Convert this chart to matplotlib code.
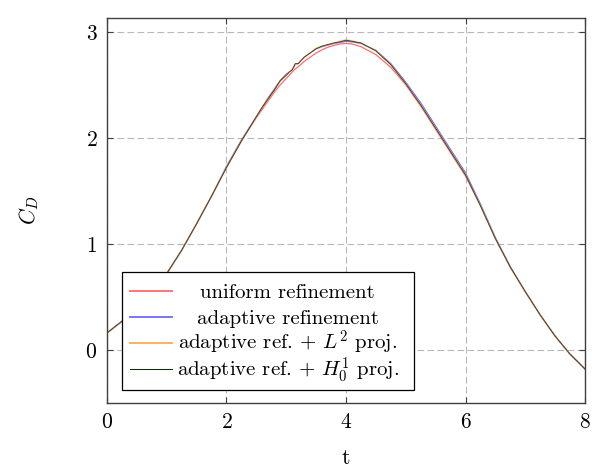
import matplotlib
matplotlib.use("Agg")
import matplotlib.pyplot as plt
from matplotlib.offsetbox import DrawingArea

plt.rcParams["font.family"] = "serif"
plt.rcParams["font.serif"] = ["cmr10"]
plt.rcParams["mathtext.fontset"] = "cm"
plt.rcParams["axes.formatter.use_mathtext"] = True

# time samples
t = [0.0, 0.25, 0.5, 0.75, 1.0, 1.25, 1.5, 1.75, 2.0, 2.25, 2.5, 2.6, 2.7, 2.8,
     2.9, 3.0, 3.05, 3.1, 3.15, 3.2, 3.3, 3.4, 3.5, 3.6, 3.7, 3.8, 3.9, 4.0,
     4.1, 4.25, 4.5, 4.75, 5.0, 5.25, 5.5, 5.75, 6.0, 6.25, 6.5, 6.75, 7.0,
     7.25, 7.5, 7.75, 8.0]

# drag coefficient, uniform refinement
cd_uniform = [0.16, 0.27, 0.40, 0.55, 0.72, 0.94, 1.19, 1.45, 1.72, 1.97, 2.19,
              2.27, 2.35, 2.43, 2.50, 2.56, 2.59, 2.62, 2.65, 2.67, 2.72, 2.76,
              2.80, 2.83, 2.855, 2.872, 2.885, 2.89, 2.885, 2.86, 2.785, 2.665,
              2.50, 2.30, 2.08, 1.86, 1.64, 1.36, 1.05, 0.78, 0.55, 0.33, 0.13,
              -0.04, -0.18]

# drag coefficient, adaptive refinement
cd_adaptive = [0.16, 0.27, 0.40, 0.55, 0.72, 0.94, 1.19, 1.45, 1.73, 1.98, 2.20,
               2.29, 2.38, 2.46, 2.54, 2.60, 2.62, 2.645, 2.69, 2.70, 2.76, 2.80,
               2.84, 2.86, 2.875, 2.89, 2.90, 2.91, 2.905, 2.89, 2.825, 2.70,
               2.525, 2.33, 2.11, 1.89, 1.67, 1.375, 1.06, 0.785, 0.55, 0.33,
               0.13, -0.04, -0.18]

# drag coefficient, adaptive refinement with L2 projection
cd_l2 = [0.16, 0.27, 0.40, 0.55, 0.72, 0.94, 1.19, 1.45, 1.72, 1.97, 2.20,
         2.29, 2.37, 2.45, 2.535, 2.59, 2.62, 2.64, 2.695, 2.70, 2.76, 2.80,
         2.845, 2.865, 2.88, 2.895, 2.91, 2.925, 2.915, 2.895, 2.82, 2.69,
         2.51, 2.31, 2.09, 1.87, 1.65, 1.36, 1.05, 0.78, 0.55, 0.33, 0.13,
         -0.04, -0.18]

# drag coefficient, adaptive refinement with H0^1 projection
cd_h1 = [0.16, 0.27, 0.40, 0.55, 0.72, 0.94, 1.19, 1.45, 1.72, 1.97, 2.20,
         2.29, 2.37, 2.45, 2.54, 2.59, 2.62, 2.64, 2.70, 2.70, 2.76, 2.80,
         2.84, 2.865, 2.88, 2.895, 2.905, 2.92, 2.91, 2.895, 2.82, 2.69,
         2.51, 2.31, 2.09, 1.87, 1.65, 1.36, 1.05, 0.78, 0.55, 0.33, 0.13,
         -0.04, -0.18]

labels = ["uniform refinement",
          "adaptive refinement",
          r"adaptive ref. + $L^2$ proj.",
          r"adaptive ref. + $H_0^1$ proj."]
colors = ["#ff6e6e", "#6e6eff", "#ffac5c", "#0b2f0b"]
widths_lw = [0.9, 0.9, 0.9, 0.5]
series = [cd_uniform, cd_adaptive, cd_l2, cd_h1]

fig = plt.figure(figsize=(5.92, 4.70), dpi=100)
ax = fig.add_axes([0.1807, 0.1426, 0.8075, 0.8191])

for vals, col, lw, lab in zip(series, colors, widths_lw, labels):
    ax.plot(t, vals, color=col, lw=lw, label=lab)

ax.set_xlim(0, 8)
ax.set_ylim(-0.5, 3.13)
ax.set_xticks([0, 2, 4, 6, 8])
ax.set_yticks([0, 1, 2, 3])
ax.tick_params(direction="in", top=True, right=True, length=4.5, width=0.8,
               labelsize=15.5, pad=7, color="#404040")
ax.grid(True, color="#b8b8b8", lw=0.8, linestyle=(0, (6, 3)))
for s in ax.spines.values():
    s.set_color("#404040")
    s.set_linewidth(1.0)

ax.set_xlabel("t", fontsize=15.5, labelpad=12)
ax.set_ylabel(r"$C_D$", fontsize=15.5, labelpad=32)

leg = ax.legend(loc="lower left", bbox_to_anchor=(0.0314, 0.0338),
                borderaxespad=0, fontsize=15, frameon=True, fancybox=False,
                edgecolor="black", framealpha=1, handlelength=2.0,
                handletextpad=0.0, labelspacing=0.25, borderpad=0.3)
leg.get_frame().set_linewidth(0.9)
for h, lw in zip(leg.get_lines(), widths_lw):
    h.set_linewidth(lw * 1.5)

# legend layout: fixed row pitch, labels centred right of the handles
fig.canvas.draw()
r = fig.canvas.get_renderer()
px2pt = 72 / fig.dpi
column = leg._legend_handle_box.get_children()[0]
rows = column.get_children()
text_boxes = [row.get_children()[1] for row in rows]
bbs = [tb.get_bbox(r) for tb in text_boxes]
wmax = max(bb.width for bb in bbs)
asc = max(bb.y1 for bb in bbs)
desc = max(-bb.y0 for bb in bbs)
row_h = asc + desc
box_h, pitch_px, gap_px, right_px, side_px = 118.0, 26.0, 5.0, 7.0, 8.0
pad_px = max(3.0, (box_h - 3 * pitch_px - row_h) / 2)
side_fix = max(0.0, side_px - pad_px)
for row, bb in zip(rows, bbs):
    extra = (wmax - bb.width) / 2
    kids = row.get_children()
    kids.insert(1, DrawingArea((gap_px + extra) * px2pt, row_h * px2pt, 0,
                               desc * px2pt))
    kids.append(DrawingArea((right_px + side_fix + extra) * px2pt, 0, 0, 0))
    kids.insert(0, DrawingArea(side_fix * px2pt, 0, 0, 0))
column.sep = (pitch_px - row_h) * px2pt
leg._legend_box.pad = pad_px * px2pt

fig.savefig("out.png", dpi=100)
